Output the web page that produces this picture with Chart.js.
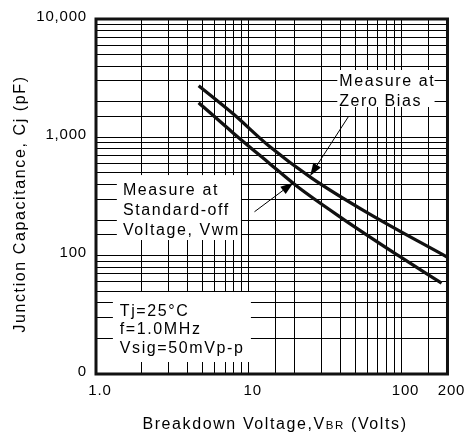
<!DOCTYPE html>
<html><head><meta charset="utf-8">
<script src="https://cdn.jsdelivr.net/npm/chart.js@4.4.1/dist/chart.umd.min.js"></script>
<style>html,body{margin:0;padding:0;background:#fff;}canvas{display:block;}</style>
</head><body>
<canvas id="c" width="468" height="438"></canvas>
<script>
// ---- data ----
const zeroBiasVolts = [4.7, 7.9, 13.5, 25.7, 60, 200];
const zeroBiasPF    = [2730, 1580, 850, 455, 230, 97];
const standoffVolts = [4.7, 7.9, 13.5, 21, 41.5, 95.6, 183];
const standoffPF    = [1960, 1090, 610, 380, 204, 100, 58.5];

const xLabelValues = [1, 10, 100, 200];
const xLabelTexts  = ['1.0', '10', '100', '200'];
const yLabelValues = [10, 100, 1000, 10000];
const yLabelTexts  = ['0', '100', '1,000', '10,000'];

const zeroBiasNote   = ['Measure at', 'Zero Bias'];
const standoffNote   = ['Measure at', 'Standard-off', 'Voltage, Vwm'];
const conditionsNote = ['Tj=25\u00B0C', 'f=1.0MHz', 'Vsig=50mVp-p'];

const FONT = "'Liberation Sans', Arial, sans-serif";
Chart.defaults.font.family = FONT;

function labelFor(values, texts, v) {
  for (let i = 0; i < values.length; i++) {
    if (Math.abs(v - values[i]) / values[i] < 1e-6) return texts[i];
  }
  return '';
}

// annotation layout, in data coordinates (volts, pF)
const notes = [
  {lines: zeroBiasNote,   box: [38, 3707, 164.6, 1804], at: [39.1, 2716], lh: 20.5},
  {lines: standoffNote,   box: [1.369, 480, 8.89, 135.6], at: [1.5, 325.5], lh: 20},
  {lines: conditionsNote, box: [1.29, 49.3, 10.33, 12.63], at: [1.432, 31.1], lh: 18.8}
];
const arrows = [
  [45.2, 1515, 25.2, 471],
  [10.9, 235, 19.6, 414]
];

function P(chart, v, c) {
  return [chart.scales.x.getPixelForValue(v), chart.scales.y.getPixelForValue(c)];
}
function drawArrow(ctx, x0, y0, x1, y1) {
  const a = Math.atan2(y1 - y0, x1 - x0), L = 13, W = 4.5;
  const bx = x1 - L * Math.cos(a), by = y1 - L * Math.sin(a);
  ctx.beginPath(); ctx.moveTo(x0, y0); ctx.lineTo(bx, by); ctx.stroke();
  ctx.beginPath(); ctx.moveTo(x1, y1);
  ctx.lineTo(bx - W * Math.sin(a), by + W * Math.cos(a));
  ctx.lineTo(bx + W * Math.sin(a), by - W * Math.cos(a));
  ctx.closePath(); ctx.fill();
}

const annot = {
  id: 'annot',
  beforeDraw(chart) { chart.ctx.letterSpacing = '0.8px'; },
  beforeDatasetsDraw(chart) {
    const ctx = chart.ctx;
    ctx.save();
    ctx.fillStyle = '#fff';
    for (const n of notes) {
      const [x0, y0] = P(chart, n.box[0], n.box[1]);
      const [x1, y1] = P(chart, n.box[2], n.box[3]);
      ctx.fillRect(x0, y0, x1 - x0, y1 - y0);
    }
    ctx.restore();
  },
  afterDatasetsDraw(chart) {
    const ctx = chart.ctx;
    ctx.save();
    ctx.letterSpacing = '1.6px';
    ctx.fillStyle = '#000';
    ctx.font = '16px ' + FONT;
    ctx.textAlign = 'left';
    ctx.textBaseline = 'alphabetic';
    for (const n of notes) {
      const [x, y] = P(chart, n.at[0], n.at[1]);
      n.lines.forEach((t, i) => ctx.fillText(t, x, y + i * n.lh));
    }
    ctx.strokeStyle = '#000';
    ctx.fillStyle = '#000';
    ctx.lineWidth = 1;
    for (const a of arrows) {
      const [x0, y0] = P(chart, a[0], a[1]);
      const [x1, y1] = P(chart, a[2], a[3]);
      drawArrow(ctx, x0, y0, x1, y1);
    }
    ctx.restore();
  },
  afterDraw(chart) {
    const ctx = chart.ctx, ca = chart.chartArea;
    ctx.save();
    ctx.strokeStyle = '#111';
    ctx.lineWidth = 3;
    ctx.strokeRect(ca.left, ca.top, ca.right - ca.left, ca.bottom - ca.top);
    ctx.letterSpacing = '1.6px';
    ctx.fillStyle = '#000';
    // y title
    ctx.save();
    ctx.translate(25, 204);
    ctx.rotate(-Math.PI / 2);
    ctx.font = '16px ' + FONT;
    ctx.textAlign = 'center';
    ctx.textBaseline = 'alphabetic';
    ctx.fillText('Junction Capacitance, Cj (pF)', 0, 0);
    ctx.restore();
    // x title with small "BR"
    const parts = [['Breakdown Voltage,V', 16], ['BR', 11.5], [' (Volts)', 16]];
    let total = 0;
    for (const p of parts) { ctx.font = p[1] + 'px ' + FONT; total += ctx.measureText(p[0]).width; }
    let x = 275 - total / 2;
    ctx.textAlign = 'left';
    ctx.textBaseline = 'alphabetic';
    for (const p of parts) {
      ctx.font = p[1] + 'px ' + FONT;
      ctx.fillText(p[0], x, 429.3);
      x += ctx.measureText(p[0]).width;
    }
    ctx.restore();
  }
};

new Chart(document.getElementById('c'), {
  type: 'scatter',
  data: {
    datasets: [
      {
        label: 'Measure at Zero Bias',
        data: zeroBiasVolts.map((v, i) => ({x: v, y: zeroBiasPF[i]})),
        showLine: true, borderColor: '#111', borderWidth: 3.3,
        pointRadius: 0, cubicInterpolationMode: 'monotone', fill: false
      },
      {
        label: 'Measure at Standard-off Voltage, Vwm',
        data: standoffVolts.map((v, i) => ({x: v, y: standoffPF[i]})),
        showLine: true, borderColor: '#111', borderWidth: 3.3,
        pointRadius: 0, cubicInterpolationMode: 'monotone', fill: false
      }
    ]
  },
  options: {
    responsive: false, animation: false, devicePixelRatio: 1,
    layout: {padding: {left: 0, top: 19, right: 18, bottom: 0}},
    plugins: {legend: {display: false}, tooltip: {enabled: false}},
    scales: {
      x: {
        type: 'logarithmic', min: 1, max: 200, position: 'bottom',
        afterFit(s) { s.height = 64; },
        grid: {color: '#000', lineWidth: 1, drawTicks: false},
        border: {display: false},
        ticks: {
          autoSkip: false, maxRotation: 0, minRotation: 0, padding: 8,
          labelOffset: 4, color: '#000', font: {size: 15},
          callback: v => labelFor(xLabelValues, xLabelTexts, v)
        }
      },
      y: {
        type: 'logarithmic', min: 10, max: 10000,
        afterFit(s) { s.width = 96; },
        grid: {color: '#000', lineWidth: 1, drawTicks: false},
        border: {display: false},
        ticks: {
          autoSkip: false, padding: 9, labelOffset: -2.5,
          color: '#000', font: {size: 15},
          callback: v => labelFor(yLabelValues, yLabelTexts, v)
        }
      }
    }
  },
  plugins: [annot]
});
</script>
</body></html>
